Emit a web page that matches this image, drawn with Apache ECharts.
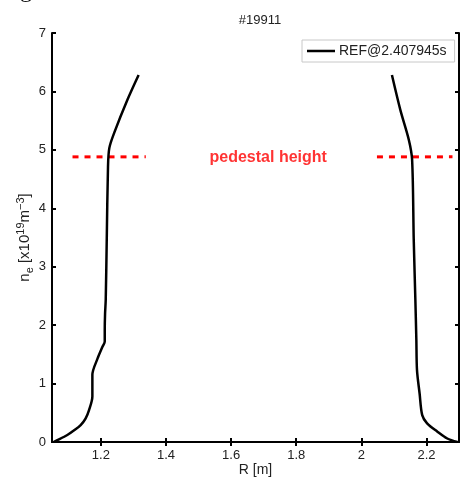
<!DOCTYPE html>
<html>
<head>
<meta charset="utf-8">
<script src="https://cdn.jsdelivr.net/npm/echarts@6/dist/echarts.min.js"></script>
<style>
html,body{margin:0;padding:0;background:#fff;}
#chart{width:469px;height:477px;}
</style>
</head>
<body>
<div id="chart"></div>
<script>
// ---- data ----
var titleText = '#19911';
var seriesName = 'REF@2.407945s';
var xTicks = [1.2, 1.4, 1.6, 1.8, 2, 2.2];
var yTicks = [0, 1, 2, 3, 4, 5, 6, 7];
var xMin = 1.05, xMax = 2.3;

var leftR  = [1.055, 1.062, 1.097, 1.118, 1.138, 1.153, 1.164, 1.174, 1.174, 1.190, 1.205, 1.212, 1.212, 1.213, 1.215, 1.218, 1.222, 1.226, 1.241, 1.282, 1.316];
var leftNe = [0.00, 0.02, 0.12, 0.20, 0.29, 0.40, 0.55, 0.78, 1.15, 1.43, 1.63, 1.72, 1.92, 2.20, 2.43, 3.41, 4.71, 5.03, 5.29, 5.86, 6.28];

var rightR  = [2.094, 2.120, 2.146, 2.156, 2.161, 2.166, 2.169, 2.171, 2.179, 2.187, 2.202, 2.233, 2.264, 2.295];
var rightNe = [6.28, 5.68, 5.17, 4.83, 3.46, 2.43, 1.75, 1.23, 0.83, 0.46, 0.32, 0.18, 0.06, 0.00];

var pedHeight = 4.88;
var pedLeftR = [1.113, 1.338];
var pedRightR = [2.048, 2.280];
var pedLabel = 'pedestal height';
var pedLabelR = 1.714;

function pairs(xs, ys) { return xs.map(function (x, i) { return [x, ys[i]]; }); }

var chart = echarts.init(document.getElementById('chart'), null, {renderer: 'canvas'});
var font = 'Liberation Sans';

var option = {
  animation: false,
  backgroundColor: '#fff',
  textStyle: {fontFamily: font},
  title: {
    text: titleText, left: 255, top: 9, textAlign: 'center',
    textStyle: {fontFamily: font, fontSize: 13, fontWeight: 'normal', color: '#222'}
  },
  legend: {
    data: [{name: seriesName, icon: 'rect'}],
    left: 302, top: 40,
    itemWidth: 28, itemHeight: 2.5,
    itemGap: 4,
    padding: [4, 8, 4, 5],
    borderColor: '#c8c8c8', borderWidth: 1, backgroundColor: '#fff',
    textStyle: {fontFamily: font, fontSize: 14, color: '#222', padding: [0, 0, 0, -1]}
  },
  grid: {left: 52, right: 10, top: 33, bottom: 35, containLabel: false, outerBoundsMode: 'none'},
  xAxis: [{
    type: 'value', min: xMin, max: xMax, position: 'bottom',
    name: 'R [m]', nameLocation: 'middle', nameGap: 21, nameMoveOverlap: false,
    nameTextStyle: {fontFamily: font, fontSize: 14, color: '#222'},
    axisLine: {show: true, lineStyle: {color: '#000', width: 2}},
    axisTick: {show: true, inside: true, length: 4, customValues: xTicks, lineStyle: {color: '#000', width: 2}},
    axisLabel: {show: true, customValues: xTicks, margin: 7, fontFamily: font, fontSize: 13, color: '#222',
      formatter: function (v) { return String(Math.round(v * 10) / 10); }},
    splitLine: {show: false}
  }, {
    type: 'value', min: xMin, max: xMax, position: 'top',
    axisLine: {show: true, lineStyle: {color: '#000', width: 2}},
    axisTick: {show: true, inside: true, length: 4, customValues: xTicks, lineStyle: {color: '#000', width: 2}},
    axisLabel: {show: false},
    splitLine: {show: false}
  }],
  yAxis: [{
    type: 'value', min: 0, max: 7, interval: 1, position: 'left',
    name: '{b|n}{s|e}{b| [x10}{p|19}{b|m}{p|−3}{b|]}',
    nameLocation: 'middle', nameRotate: 90, nameGap: 17, nameMoveOverlap: false,
    nameTextStyle: {
      fontFamily: font, color: '#222',
      rich: {
        b: {fontFamily: font, fontSize: 15, color: '#222', lineHeight: 20, verticalAlign: 'middle'},
        s: {fontFamily: font, fontSize: 11, color: '#222', lineHeight: 20, verticalAlign: 'bottom'},
        p: {fontFamily: font, fontSize: 11, color: '#222', lineHeight: 20, verticalAlign: 'top'}
      }
    },
    axisLine: {show: true, lineStyle: {color: '#000', width: 2}},
    axisTick: {show: true, inside: true, length: 4, lineStyle: {color: '#000', width: 2}},
    axisLabel: {show: true, margin: 6, fontFamily: font, fontSize: 13, color: '#222'},
    splitLine: {show: false}
  }, {
    type: 'value', min: 0, max: 7, interval: 1, position: 'right',
    axisLine: {show: true, lineStyle: {color: '#000', width: 2}},
    axisTick: {show: true, inside: true, length: 4, lineStyle: {color: '#000', width: 2}},
    axisLabel: {show: false},
    splitLine: {show: false}
  }],
  graphic: [{
    type: 'text', left: 20, top: -21, silent: true,
    style: {text: 'g', font: '24px "Liberation Serif"', fill: '#111'}
  }],
  series: [
    {
      name: seriesName, type: 'line', xAxisIndex: 0, yAxisIndex: 0,
      data: pairs(leftR, leftNe), showSymbol: false, smooth: 0.3,
      lineStyle: {color: '#000', width: 2.5}, itemStyle: {color: '#000'}, z: 3
    },
    {
      name: seriesName, type: 'line', xAxisIndex: 0, yAxisIndex: 0,
      data: pairs(rightR, rightNe), showSymbol: false, smooth: 0.3,
      lineStyle: {color: '#000', width: 2.5}, itemStyle: {color: '#000'}, z: 3
    },
    {
      name: 'pedL', type: 'line', data: [[pedLeftR[0], pedHeight], [pedLeftR[1], pedHeight]],
      showSymbol: false, lineStyle: {color: '#ff0000', width: 3, type: [6, 6]}, z: 2
    },
    {
      name: 'pedR', type: 'line', data: [[pedRightR[0], pedHeight], [pedRightR[1], pedHeight]],
      showSymbol: false, lineStyle: {color: '#ff0000', width: 3, type: [6, 6]}, z: 2
    },
    {
      name: 'pedText', type: 'scatter', data: [[pedLabelR, pedHeight]], symbolSize: 0,
      label: {show: true, position: 'inside', offset: [0, 1], formatter: pedLabel, fontFamily: font, fontSize: 16,
        fontWeight: 'bold', color: '#ff0000'},
      silent: true, z: 4
    }
  ]
};
chart.setOption(option);
</script>
</body>
</html>
